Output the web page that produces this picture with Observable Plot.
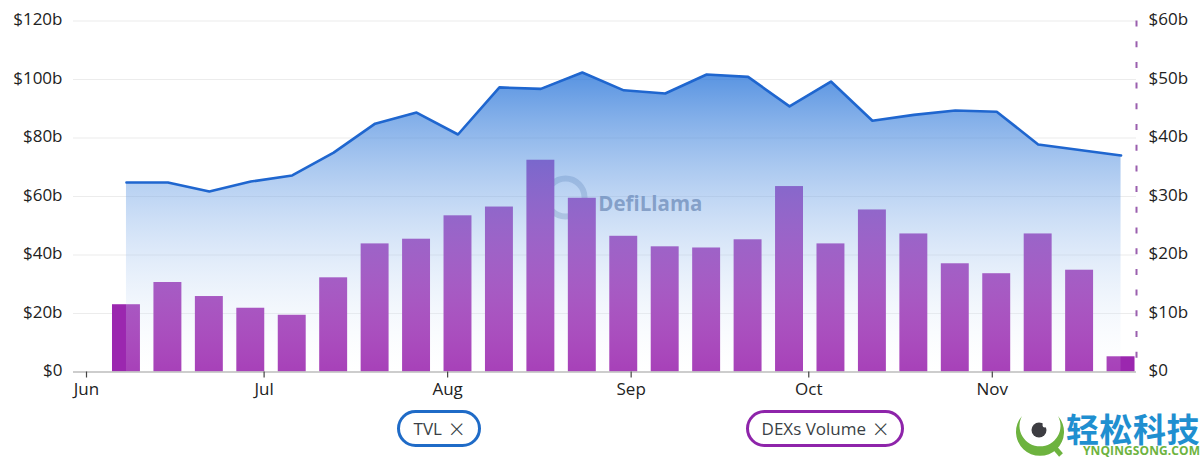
<!DOCTYPE html>
<html>
<head>
<meta charset="utf-8">
<script src="https://cdn.jsdelivr.net/npm/d3@7"></script>
<script src="https://cdn.jsdelivr.net/npm/@observablehq/plot@0.6"></script>
<style>
html,body{margin:0;padding:0;background:#fff;}
#page{position:relative;width:1200px;height:457px;overflow:hidden;font-family:"Open Sans",sans-serif;}
#chart svg{display:block;}
.pill{position:absolute;top:410px;height:31px;line-height:31px;border-radius:19px;border:3px solid;background:#fff;color:#3a3f45;font-size:17px;text-align:center;box-sizing:content-box;white-space:nowrap;}
.pill span{margin-left:7px;font-size:27px;font-weight:300;vertical-align:-4px;line-height:20px;}
#brand{position:absolute;left:1066px;top:412px;color:#1f8fd0;font:bold 33px/32px "Noto Sans CJK SC",sans-serif;letter-spacing:0.5px;white-space:nowrap;}
#brand2{position:absolute;left:1083px;top:445px;color:#6db33f;font:bold 12px/12px "Open Sans",sans-serif;letter-spacing:0.1px;white-space:nowrap;}
#logo{position:absolute;left:1014px;top:410px;}
</style>
</head>
<body>
<div id="page">
<div id="chart"></div>
<div class="pill" style="left:397px;width:78px;border-color:#1f6bc7;">TVL<span>×</span></div>
<div class="pill" style="left:746px;width:152px;border-color:#8e24aa;">DEXs Volume<span>×</span></div>
<svg id="logo" width="56" height="47" viewBox="0 0 56 47">
  <path d="M8 6 A24 24 0 1 0 44 6 A20.5 20.5 0 1 1 8 6Z" fill="#6db33f"/>
  <path d="M41 38 L47 45" stroke="#6db33f" stroke-width="5"/>
  <circle cx="25" cy="20" r="7.5" fill="#3d3d42"/>
  <circle cx="31" cy="15" r="2.5" fill="#fff"/>
</svg>
<div id="brand">轻松科技</div>
<div id="brand2">YNQINGSONG.COM</div>
</div>
<script>
const weeks = ["2025-06-07","2025-06-14","2025-06-21","2025-06-28","2025-07-05","2025-07-12","2025-07-19","2025-07-26","2025-08-02","2025-08-09","2025-08-16","2025-08-23","2025-08-30","2025-09-06","2025-09-13","2025-09-20","2025-09-27","2025-10-04","2025-10-11","2025-10-18","2025-10-25","2025-11-01","2025-11-08","2025-11-15","2025-11-22"];
const tvl = [64.8,64.8,61.7,65.1,67.2,75.0,84.9,88.7,81.2,97.3,96.8,102.4,96.3,95.2,101.7,100.9,90.8,99.3,85.9,87.9,89.4,89.0,77.8,75.9,74.0];
const dexVolume = [11.5,15.3,12.9,10.9,9.7,16.1,21.9,22.7,26.7,28.2,36.2,29.7,23.2,21.4,21.2,22.6,31.7,21.9,27.7,23.6,18.5,16.8,23.6,17.4,2.6];
const leftTicks = [0,20,40,60,80,100,120];
const rightTicks = [0,10,20,30,40,50,60];
const monthStarts = ["2025-06-01","2025-07-01","2025-08-01","2025-09-01","2025-10-01","2025-11-01"];
const monthLabels = ["Jun","Jul","Aug","Sep","Oct","Nov"];
const xDomain = ["2025-05-29T19:17:00Z","2025-11-25T08:38:00Z"];

const DAY = 864e5, HALF_BAR = 2.36 * DAY, VOLUME_RATIO = 2;
const when = s => new Date(s + "T18:00:00Z");
const table = weeks.map((w,i)=>({date:when(w),tvl:tvl[i],dex:dexVolume[i]}));
const monthDates = monthStarts.map(s=>new Date(s+"T00:00:00Z"));
const ink = "#222", tickFont = {fontSize:17, fill:ink, stroke:"none", dy:-1};

function defs(){
  const g = d3.create("svg:g");
  const lg = g.append("defs").append("linearGradient").attr("id","tvlGrad")
    .attr("x1",0).attr("y1",0).attr("x2",0).attr("y2",1);
  lg.append("stop").attr("offset","0").attr("stop-color","rgb(30,110,215)").attr("stop-opacity",0.75);
  lg.append("stop").attr("offset","1").attr("stop-color","rgb(255,255,255)").attr("stop-opacity",0.12);
  return g.node();
}
function watermarkLogo(index,{x,y}){
  const g = d3.create("svg:g");
  g.append("circle").attr("cx",x(new Date("2025-08-21T00:00:00Z"))).attr("cy",y(59.5)).attr("r",19)
    .attr("fill","none").attr("stroke","#9aa9bf").attr("stroke-width",6).attr("opacity",0.55);
  return g.node();
}

const plot = Plot.plot({
  width:1200, height:400,
  marginLeft:73, marginRight:64, marginTop:20.5, marginBottom:28.5,
  style:{fontFamily:'"Open Sans",sans-serif',background:"transparent",overflow:"visible"},
  x:{type:"time",domain:xDomain.map(s=>new Date(s)),axis:null},
  y:{type:"linear",domain:[0,120],axis:null},
  marks:[
    defs,
    Plot.ruleY(leftTicks.slice(1),{stroke:"#ececec",strokeWidth:1.2}),
    watermarkLogo,
    Plot.text(["DefiLlama"],{x:()=>new Date("2025-09-04T06:00:00Z"),y:()=>57.2,fontSize:20.5,fontWeight:"bold",fill:"#7f8ca6",fillOpacity:0.95}),
    Plot.rectY(table,{
      x1:d=>new Date(+d.date-HALF_BAR), x2:d=>new Date(+d.date+HALF_BAR),
      y1:0, y2:d=>d.dex*VOLUME_RATIO, fill:"#9b27af"
    }),
    Plot.areaY(table,{x:"date",y:"tvl",fill:"url(#tvlGrad)"}),
    Plot.lineY(table,{x:"date",y:"tvl",stroke:"#1f66cf",strokeWidth:2.6,curve:"linear"}),
    Plot.ruleY([0],{stroke:"#bdbdbd",strokeWidth:1.6}),
    Plot.ruleX([new Date(xDomain[1])],{y1:120,y2:0,stroke:"#9a5fae",strokeWidth:2,strokeDasharray:"6,14.7"}),
    Plot.axisY({anchor:"left",ticks:leftTicks,tickSize:0,tickPadding:11,label:null,
      tickFormat:d=>d===0?"$0":`$${d}b`,...tickFont}),
    Plot.axisY({anchor:"right",ticks:rightTicks.map(d=>d*VOLUME_RATIO),tickSize:0,tickPadding:12,label:null,
      tickFormat:d=>d===0?"$0":`$${d/VOLUME_RATIO}b`,...tickFont}),
    Plot.axisX({anchor:"bottom",ticks:monthDates,tickSize:6,tickPadding:5,label:null,stroke:"#444",strokeWidth:1.2,
      tickFormat:d=>monthLabels[d.getUTCMonth()-5],fontSize:17,fill:ink})
  ]
});
document.getElementById("chart").appendChild(plot);
</script>
</body>
</html>
